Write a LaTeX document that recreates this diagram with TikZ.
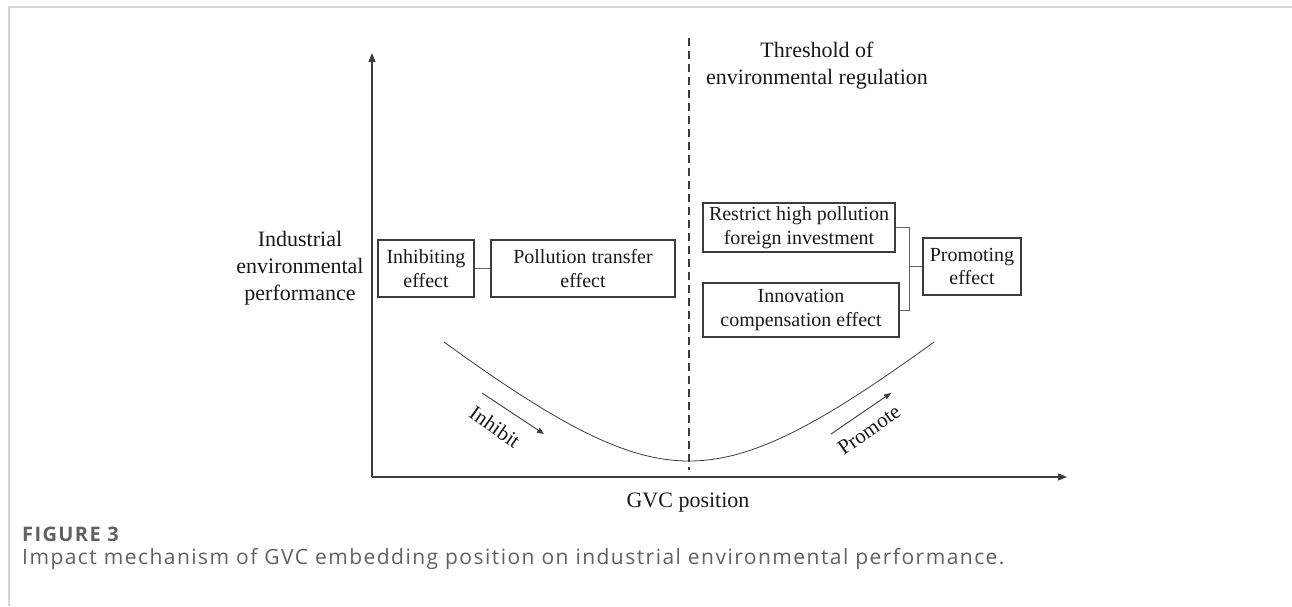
\documentclass[tikz,border=0pt]{standalone}
\usepackage{fontspec}
\setmainfont{Liberation Serif}
\newfontfamily\capfont[LetterSpace=7]{Open Sans}
\usetikzlibrary{arrows.meta}
\definecolor{framegray}{HTML}{D6D6D6}
\definecolor{linegray}{HTML}{3C3C3C}
\definecolor{capgray}{HTML}{606060}
\begin{document}
\begin{tikzpicture}[x=1pt,y=-1pt,
  every node/.style={font=\fontsize{22}{27}\selectfont, text=black!90},
  box/.style={draw=linegray, line width=1.2pt, align=center, inner sep=0pt, font=\fontsize{20}{23.5}\selectfont},
  conn/.style={draw=linegray!80, line width=0.9pt},
  axis/.style={draw=linegray, line width=1.3pt, -{Triangle[length=9pt,width=7pt]}},
  small arrow/.style={draw=linegray, line width=0.9pt, -{Triangle[length=7pt,width=5.5pt]}},
  lbl/.style={align=center, inner sep=0pt},
  captext/.style={font=\capfont\fontsize{21}{25}\selectfont, text=capgray, anchor=base west, inner sep=0pt}
]
\useasboundingbox (0,0) rectangle (1292,606);
% frame
\draw[framegray, line width=1.6pt] (9,606) -- (9,7) -- (1292,7);
% axes
\coordinate (o) at (372,477);
\coordinate (ytip) at (372,53);
\coordinate (xtip) at (1067,477);
\draw[axis] (o) -- (ytip);
\draw[axis] (o) -- (xtip);
% threshold dashed
\coordinate (dtop) at (689,38);
\coordinate (dbot) at (689,470);
\draw[linegray, line width=1.3pt, dash pattern=on 8pt off 5pt] (dtop) -- (dbot);
\node[lbl] (thr) at (817,66) {Threshold of\\environmental regulation};
% axis labels
\node[lbl] (ylab) at (300,268) {Industrial\\environmental\\performance};
\node[lbl] (xlab) at (688,503) {GVC position};
% curve
\draw[linegray, line width=0.8pt] plot[domain=-245:245, samples=80, smooth] ({689+\x},{461-117.2*(sqrt(1+(\x/140)^2)-1)});
% boxes
\node[box, minimum width=96pt, minimum height=57pt] (inh) at (426,268.5) {Inhibiting\\effect};
\node[box, minimum width=184pt, minimum height=57pt] (pol) at (583,268.5) {Pollution transfer\\effect};
\node[box, minimum width=192pt, minimum height=49pt] (res) at (799,227.5) {Restrict high pollution\\foreign investment};
\node[box, minimum width=196pt, minimum height=54pt] (inn) at (801,310) {Innovation\\compensation effect};
\node[box, minimum width=98pt, minimum height=57pt] (pro) at (972,266.5) {Promoting\\effect};
\draw[conn] (inh.east) -- (pol.west);
\coordinate (j) at (909,266.5);
\draw[conn] (res.east) -| (j) |- (inn.east);
\draw[conn] (j) -- (pro.west);
% inhibit / promote arrows
\coordinate (ia) at (482,393);
\coordinate (ib) at (544,434);
\draw[small arrow] (ia) -- (ib);
\node[lbl, rotate=-35, font=\fontsize{21}{25}\selectfont] (inhl) at (495,427) {Inhibit};
\coordinate (pa) at (831,434);
\coordinate (pb) at (891,393);
\draw[small arrow] (pa) -- (pb);
\node[lbl, rotate=35, font=\fontsize{21}{25}\selectfont] (prol) at (869,430) {Promote};
% caption
\node[captext, font=\capfont\fontsize{20}{24}\selectfont\bfseries] (fig) at (22,541) {FIGURE 3};
\node[captext] (capt) at (22,564) {Impact mechanism of GVC embedding position on industrial environmental performance.};
\end{tikzpicture}
\end{document}
